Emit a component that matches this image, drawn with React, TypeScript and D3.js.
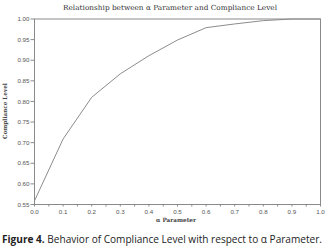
import React from "react";
import * as d3 from "d3";

const alphaValues = [0, 0.1, 0.2, 0.3, 0.4, 0.5, 0.6, 0.7, 0.8, 0.9, 1.0];
const complianceValues = [0.559, 0.709, 0.81, 0.867, 0.911, 0.949, 0.979, 0.988, 0.996, 1.0, 1.0];
const yTickValues = [0.55, 0.6, 0.65, 0.7, 0.75, 0.8, 0.85, 0.9, 0.95, 1.0];
const xTickValues = [0, 0.1, 0.2, 0.3, 0.4, 0.5, 0.6, 0.7, 0.8, 0.9, 1.0];
const xMinorTicks = d3.range(0, 1.0001, 0.05);

const W = 327;
const H = 250;
const left = 34.5;
const right = 320.5;
const top = 19;
const bottom = 204.5;

export default function App() {
  const x = d3.scaleLinear().domain([0, 1]).range([left, right]);
  const y = d3.scaleLinear().domain([0.55, 1.0]).range([bottom, top]);
  const line = d3
    .line<number>()
    .x((_, i) => x(alphaValues[i]))
    .y((d) => y(d));
  const axisColor = "#8a8a8a";
  const labelColor = "#555";
  const tickFont = "'Liberation Sans', Arial, sans-serif";
  const serif = "'DejaVu Serif', 'Liberation Serif', serif";
  return (
    <svg
      width={W}
      height={H}
      style={{ position: "absolute", left: 0, top: 0, background: "#fff" }}
    >
      <text
        x={170}
        y={9.5}
        textAnchor="middle"
        fontFamily={serif}
        fontSize={7}
        fill="#333"
        textLength={214}
        lengthAdjust="spacingAndGlyphs"
      >
        Relationship between α Parameter and Compliance Level
      </text>
      <rect
        x={left}
        y={top}
        width={right - left}
        height={bottom - top}
        fill="none"
        stroke={axisColor}
        strokeWidth={1}
      />
      {yTickValues.map((v) => (
        <g key={"y" + v}>
          <line x1={left - 4} x2={left} y1={y(v)} y2={y(v)} stroke={axisColor} />
          <text
            x={left - 5}
            y={y(v) + 2.2}
            textAnchor="end"
            fontFamily={tickFont}
            fontSize={6.2}
            fill={labelColor}
          >
            {v.toFixed(2)}
          </text>
        </g>
      ))}
      {xMinorTicks.map((v) => (
        <line
          key={"xm" + v}
          x1={x(v)}
          x2={x(v)}
          y1={bottom}
          y2={bottom + 2}
          stroke={axisColor}
        />
      ))}
      {xTickValues.map((v) => (
        <text
          key={"x" + v}
          x={x(v)}
          y={214}
          textAnchor="middle"
          fontFamily={tickFont}
          fontSize={6.2}
          fill={labelColor}
        >
          {v.toFixed(1)}
        </text>
      ))}
      <text
        x={176}
        y={221.5}
        textAnchor="middle"
        fontFamily={serif}
        fontSize={5.8}
        fontWeight="bold"
        fill="#444"
        textLength={40}
        lengthAdjust="spacingAndGlyphs"
      >
        α Parameter
      </text>
      <text
        transform={`translate(7,111) rotate(-90)`}
        textAnchor="middle"
        fontFamily={serif}
        fontSize={5.8}
        fontWeight="bold"
        fill="#444"
        textLength={56}
        lengthAdjust="spacingAndGlyphs"
      >
        Compliance Level
      </text>
      <path
        d={line(complianceValues) || ""}
        fill="none"
        stroke="#8c8c8c"
        strokeWidth={1}
      />
      <text
        x={2}
        y={243}
        fontFamily="'Open Sans', 'Noto Sans', sans-serif"
        fontSize={10}
        fill="#222"
        textLength={320}
        lengthAdjust="spacingAndGlyphs"
      >
        <tspan fontWeight="bold">Figure 4.</tspan> Behavior of Compliance Level with respect to α Parameter.
      </text>
    </svg>
  );
}
